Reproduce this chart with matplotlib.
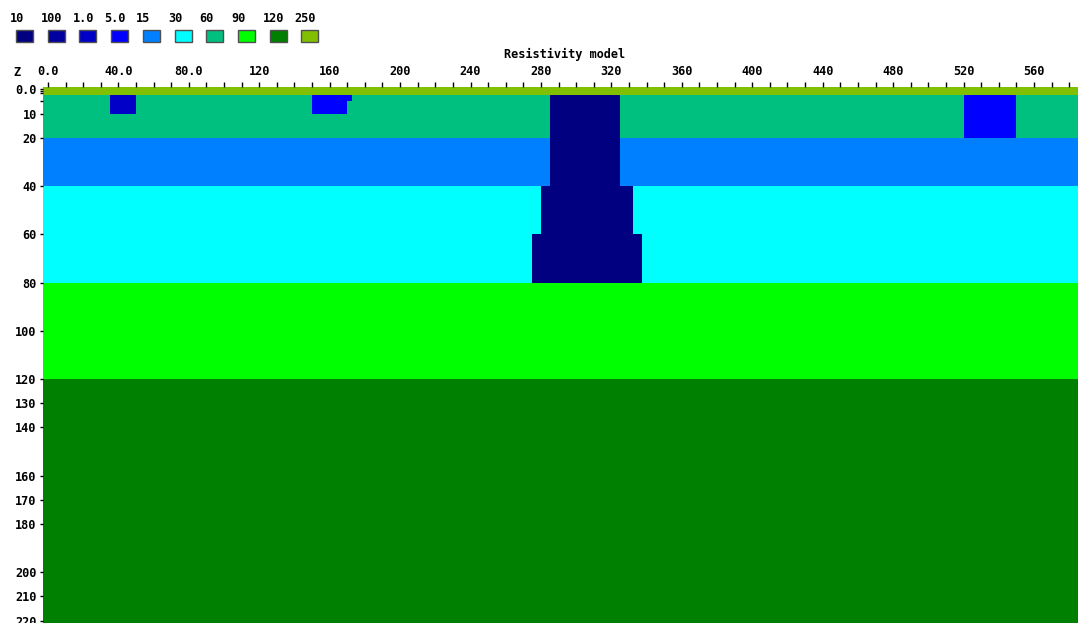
import numpy as np
import matplotlib
matplotlib.use("Agg")
import matplotlib.pyplot as plt
from matplotlib.colors import ListedColormap, BoundaryNorm
from matplotlib.patches import Rectangle

# Resistivity classes shown in the colour key
class_labels = ['10', '100', '1.0', '5.0', '15', '30', '60', '90', '120', '250']
class_colors = ['#000080', '#0000a0', '#0000c8', '#0000ff', '#0080ff',
                '#00ffff', '#00c080', '#00ff00', '#008000', '#80c000']

# Horizontal layers (depth top / bottom, class index)
layer_top = [-1.0, 2.5, 20.0, 40.0, 80.0, 120.0]
layer_bottom = [2.5, 20.0, 40.0, 80.0, 120.0, 221.0]
layer_class = [9, 6, 4, 5, 7, 8]

# Embedded bodies (x range, depth range, class index)
block_x0 = [35.0, 150.0, 150.0, 285.0, 280.0, 275.0, 520.0]
block_x1 = [50.0, 172.5, 170.0, 325.0, 332.5, 337.5, 550.0]
block_z0 = [2.5, 2.5, 5.0, 2.5, 40.0, 60.0, 2.5]
block_z1 = [10.0, 5.0, 10.0, 40.0, 60.0, 80.0, 20.0]
block_class = [2, 3, 3, 0, 0, 0, 3]

x_min, x_max = -2.8, 585.0
x_ticks = [0, 40, 80, 120, 160, 200, 240, 280, 320, 360, 400, 440, 480, 520, 560]
x_tick_labels = ['0.0', '40.0', '80.0', '120', '160', '200', '240', '280',
                 '320', '360', '400', '440', '480', '520', '560']
y_ticks = [0, 10, 20, 40, 60, 80, 100, 120, 130, 140, 160, 170, 180, 200, 210, 220]
y_tick_labels = ['0.0', '10', '20', '40', '60', '80', '100', '120', '130', '140',
                 '160', '170', '180', '200', '210', '220']
y_minor = [0.75, 1.5, 5.0]

FONT = dict(family='DejaVu Sans Mono', weight='bold')

# Build the model grid from layers and bodies
x_edges = np.unique(np.array([x_min, x_max] + block_x0 + block_x1))
z_edges = np.unique(np.array(layer_top + layer_bottom + block_z0 + block_z1))
xc = 0.5 * (x_edges[:-1] + x_edges[1:])
zc = 0.5 * (z_edges[:-1] + z_edges[1:])
grid = np.zeros((len(zc), len(xc)), dtype=int)
for t, b, c in zip(layer_top, layer_bottom, layer_class):
    grid[(zc > t) & (zc < b), :] = c
for x0, x1, z0, z1, c in zip(block_x0, block_x1, block_z0, block_z1, block_class):
    m = ((zc > z0) & (zc < z1))[:, None] & ((xc > x0) & (xc < x1))[None, :]
    grid[m] = c

cmap = ListedColormap(class_colors)
norm = BoundaryNorm(np.arange(len(class_colors) + 1) - 0.5, cmap.N)

W, H = 1078, 623
fig = plt.figure(figsize=(W / 100, H / 100), dpi=100)
ax = fig.add_axes([43 / W, 0, (W - 43) / W, (H - 87) / H])
ax.pcolormesh(x_edges, z_edges, grid, cmap=cmap, norm=norm,
              antialiased=False, linewidth=0, rasterized=False)
ax.set_xlim(x_min, x_max)
ax.set_ylim(221.0, -1.0)
for s in ax.spines.values():
    s.set_visible(False)

ax.xaxis.tick_top()
ax.set_xticks(x_ticks)
ax.set_xticklabels(x_tick_labels, fontsize=8.6, **FONT)
ax.set_xticks(np.arange(10, 590, 10), minor=True)
ax.tick_params(axis='x', which='both', direction='out', length=3.5, width=1,
               pad=3, top=True, bottom=False)
ax.set_yticks(y_ticks)
ax.set_yticklabels(y_tick_labels, fontsize=8.6, **FONT)
ax.set_yticks(y_minor, minor=True)
ax.tick_params(axis='y', which='both', direction='out', length=2.5, width=1, pad=2)

# Title and axis letter
fig.text(565 / W, 1 - 54 / H, 'Resistivity model', ha='center', va='center',
         fontsize=8.6, **FONT)
fig.text(13 / W, 1 - 73 / H, 'Z', ha='left', va='center', fontsize=8.6, **FONT)

# Colour key
for i, (lab, col) in enumerate(zip(class_labels, class_colors)):
    left = 16 + 31.7 * i
    fig.text((left - 6.5) / W, 1 - 19 / H, lab, ha='left', va='center',
             fontsize=8.6, **FONT)
    fig.add_artist(Rectangle((left / W, 1 - 41.5 / H), 17 / W, 12 / H,
                             transform=fig.transFigure, facecolor=col,
                             edgecolor='#505050', linewidth=1))

fig.savefig('out.png', dpi=100)
